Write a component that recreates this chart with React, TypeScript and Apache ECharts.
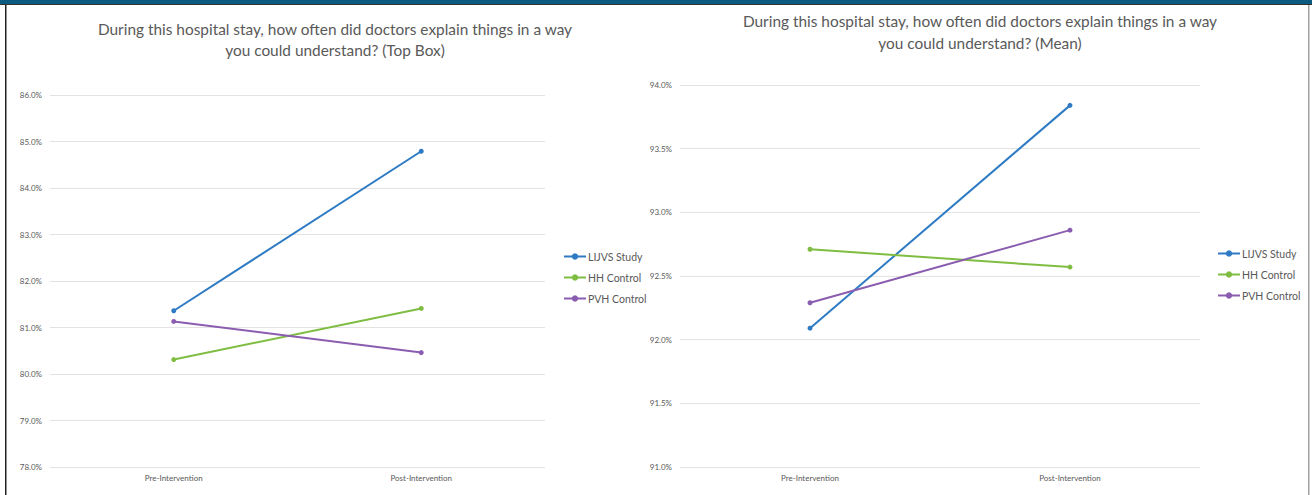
import React, { useEffect, useRef } from "react";
import * as echarts from "echarts";

const categories = ["Pre-Intervention", "Post-Intervention"];
const seriesNames = ["LIJVS Study", "HH Control", "PVH Control"];
const topBoxLIJVS = [81.36, 84.79];
const topBoxHH = [80.31, 81.41];
const topBoxPVH = [81.13, 80.46];
const meanLIJVS = [92.09, 93.84];
const meanHH = [92.71, 92.57];
const meanPVH = [92.29, 92.86];
const titleLeft = "During this hospital stay, how often did doctors explain things in a way\nyou could understand? (Top Box)";
const titleRight = "During this hospital stay, how often did doctors explain things in a way\nyou could understand? (Mean)";

const colors = ["#2e7bc4", "#7fbd42", "#8a5db0"];
const FONT = "Lato";
const TXT = "#595959";

export default function App() {
  const ref = useRef<HTMLDivElement>(null);
  useEffect(() => {
    const chart = echarts.init(ref.current!, undefined, { renderer: "svg" });
    const mkSeries = (name: string, data: number[], idx: number, color: string) => ({
      name,
      type: "line",
      xAxisIndex: idx,
      yAxisIndex: idx,
      data,
      symbol: "circle",
      symbolSize: 5,
      lineStyle: { color, width: 2 },
      itemStyle: { color },
    });
    const yAxis = (gi: number, min: number, max: number, interval: number) => ({
      type: "value",
      gridIndex: gi,
      min,
      max,
      interval,
      axisLine: { show: false },
      axisTick: { show: false },
      axisLabel: {
        formatter: (v: number) => v.toFixed(1) + "%",
        fontSize: 8,
        color: TXT,
        fontFamily: FONT,
        margin: 8,
      },
      splitLine: { lineStyle: { color: "#e3e3e3", width: 1 } },
    });
    const xAxis = (gi: number) => ({
      type: "category",
      gridIndex: gi,
      data: categories,
      boundaryGap: true,
      axisLine: { show: false },
      axisTick: { show: false },
      axisLabel: { fontSize: 8, color: TXT, fontFamily: FONT, margin: 7 },
    });
    const legend = (left: number, top: number) => ({
      orient: "vertical",
      left,
      top,
      data: seriesNames,
      itemWidth: 22,
      itemHeight: 8,
      itemGap: 10,
      textStyle: { fontSize: 10.5, color: TXT, fontFamily: FONT, padding: [0, 0, 0, -3] },
      selectedMode: false,
    });
    const titleStyle = { fontSize: 15.4, fontWeight: "normal", color: TXT, fontFamily: FONT, lineHeight: 21 };
    chart.setOption({
      animation: false,
      backgroundColor: "#ffffff",
      title: [
        { text: titleLeft, left: 330, top: 13, textAlign: "center", textStyle: titleStyle },
        { text: titleRight, left: 975, top: 5, textAlign: "center", textStyle: { ...titleStyle, lineHeight: 22 } },
      ],
      legend: [legend(558, 246), legend(1212, 243)],
      grid: [
        { left: 50, right: 1312 - 545, top: 95, bottom: 495 - 467 },
        { left: 680, right: 1312 - 1200, top: 85, bottom: 495 - 467 },
      ],
      xAxis: [xAxis(0), xAxis(1)],
      yAxis: [yAxis(0, 78, 86, 1), yAxis(1, 91, 94, 0.5)],
      series: [
        mkSeries(seriesNames[0], topBoxLIJVS, 0, colors[0]),
        mkSeries(seriesNames[1], topBoxHH, 0, colors[1]),
        mkSeries(seriesNames[2], topBoxPVH, 0, colors[2]),
        mkSeries(seriesNames[0], meanLIJVS, 1, colors[0]),
        mkSeries(seriesNames[1], meanHH, 1, colors[1]),
        mkSeries(seriesNames[2], meanPVH, 1, colors[2]),
      ],
      graphic: [
        { type: "rect", shape: { x: 0, y: 0, width: 1312, height: 4 }, style: { fill: "#0b5a80" }, silent: true },
        { type: "rect", shape: { x: 0, y: 4, width: 1312, height: 1 }, style: { fill: "#333333" }, silent: true },
        { type: "rect", shape: { x: 5, y: 5, width: 1.5, height: 490 }, style: { fill: "#222222" }, silent: true },
        { type: "rect", shape: { x: 1308, y: 5, width: 1.5, height: 490 }, style: { fill: "#a0a0a0" }, silent: true },
      ],
    });
    return () => chart.dispose();
  }, []);
  return (
    <div style={{ position: "fixed", left: 0, top: 0, width: 1312, height: 495 }}>
      <div ref={ref} style={{ width: 1312, height: 495 }} />
    </div>
  );
}
